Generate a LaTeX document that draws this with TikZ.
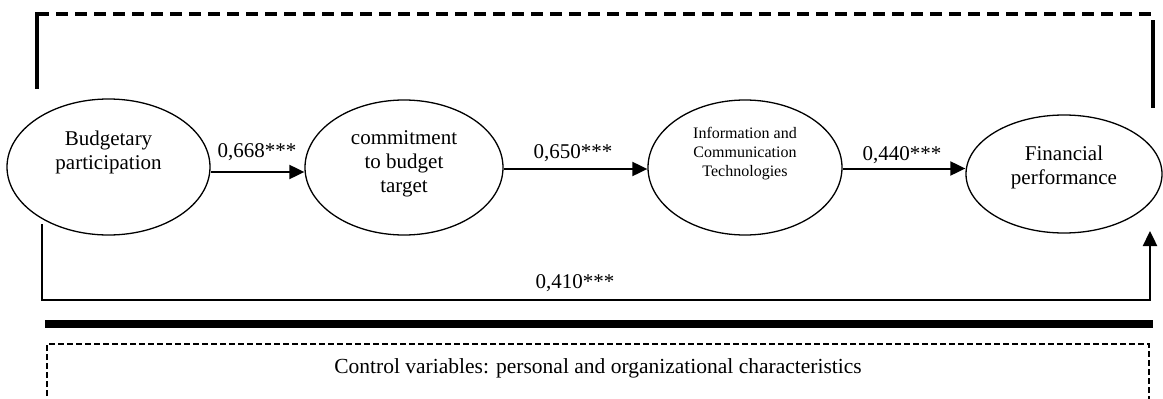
\documentclass[tikz,border=0pt]{standalone}
\usepackage{fontspec}
\setmainfont{Liberation Serif}
\usetikzlibrary{arrows.meta,shapes.geometric}

\begin{document}
\begin{tikzpicture}[x=1pt,y=-1pt,
    oval/.style={ellipse,draw,line width=1.3pt,inner sep=0pt},
    arr/.style={line width=2pt,-{Triangle[length=15pt,width=14pt]}},
    lbl/.style={font=\fontsize{21}{24}\selectfont},
    txt/.style={align=center,font=\fontsize{21}{24}\selectfont}]
    \useasboundingbox (0,0) rectangle (1163,399);
    % the four constructs
    \node[oval,minimum width=203pt,minimum height=136pt] (bp) at (108.5,167) {};
    \node[oval,minimum width=198pt,minimum height=135pt] (cbt) at (404,167.5) {};
    \node[oval,minimum width=194pt,minimum height=135pt] (ict) at (745,167.5) {};
    \node[oval,minimum width=196pt,minimum height=118pt] (fp) at (1064,174) {};
    \node[txt] (bptxt) at ([yshift=15pt]bp.center) {Budgetary\\participation};
    \node[txt] (cbttxt) at ([yshift=4pt]cbt.center) {commitment\\to budget\\target};
    \node[align=center,font=\fontsize{16}{19}\selectfont] (icttxt) at ([yshift=14pt]ict.center) {Information and\\Communication\\Technologies};
    \node[txt] (fptxt) at ([yshift=7pt]fp.center) {Financial\\performance};
    % direct paths
    \draw[arr] ([yshift=-5pt]bp.east) -- ([yshift=-5pt]bp.east -| cbt.west);
    \draw[arr] ([yshift=-1.5pt]cbt.east) -- ([yshift=-1.5pt]cbt.east -| ict.west);
    \draw[arr] ([yshift=-1pt]ict.east) -- ([yshift=-1pt]ict.east -| fp.west);
    \node[lbl] (b1) at (257,152) {0,668***};
    \node[lbl] (b2) at (573,153) {0,650***};
    \node[lbl] (b3) at (902,155) {0,440***};
    % total effect
    \coordinate (bpfoot) at (42,224);
    \coordinate (fpfoot) at (1150,231);
    \draw[arr,line width=2.4pt] (bpfoot) -- ++(0,76) -| (fpfoot);
    \node[lbl] (b4) at (575,283) {0,410***};
    % feedback line on top
    \draw[line width=3.5pt,dash pattern=on 12pt off 7pt] (37,14) -- (1152,14);
    \draw[line width=3.5pt] (37,12.25) -- (37,89);
    \draw[line width=3.5pt] (1153,20) -- (1153,108);
    % controls
    \draw[line width=8pt] (45,324) -- (1153,324);
    \draw[line width=1.5pt,dash pattern=on 6pt off 3pt] (47,405) -- (47,344) -- (1149,344) -- (1149,405);
    \node[font=\fontsize{21.5}{24}\selectfont] (ctrl) at (598,368) {Control variables: personal and organizational characteristics};
\end{tikzpicture}
\end{document}
